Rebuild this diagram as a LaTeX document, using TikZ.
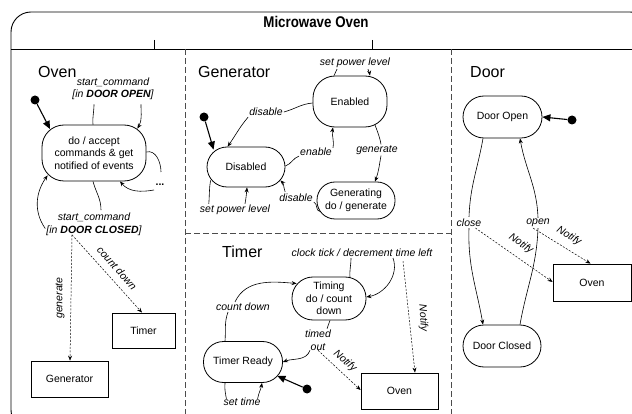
\documentclass[tikz,border=0pt]{standalone}
\usepackage{graphicx}
\usepackage{fontspec}
\setmainfont{Liberation Sans}
\usetikzlibrary{arrows.meta}
\newcommand\mwState{\fontsize{10.5}{12.5}\selectfont}
\newcommand\mwLabel{\fontsize{10.5}{12.5}\selectfont\itshape}
\newcommand\mwTitle{\fontsize{16}{18}\selectfont}
\begin{document}
\begin{tikzpicture}[x=1pt,y=1pt,
  state/.style={draw, line width=0.8pt, rounded corners=#1, align=center, inner sep=0pt, font=\mwState},
  state/.default=20pt,
  box/.style={draw, line width=0.8pt, inner sep=0pt, font=\mwState},
  lbl/.style={inner sep=1pt, font=\mwLabel, align=center},
  trans/.style={line width=0.6pt, -{Stealth[length=5pt,width=4pt]}},
  plain/.style={line width=0.6pt},
  note/.style={line width=0.5pt, dash pattern=on 2pt off 1.5pt, -{Stealth[length=5pt,width=4pt]}},
  initdot/.style={circle, fill, inner sep=0pt, minimum size=9pt},
  initarrow/.style={line width=1.1pt, -{Triangle[length=8pt,width=7pt]}},
  region/.style={line width=0.7pt, gray!60!black, dash pattern=on 6pt off 3pt},
  title/.style={anchor=west, inner sep=0pt, font=\mwTitle},
]
\useasboundingbox (0,0) rectangle (632,-414);

% outer composite state
\draw[line width=0.9pt, rounded corners=20pt] (11,-12) rectangle (650,-430);
\draw[line width=0.9pt] (11,-49) -- (645,-49);
\draw[line width=0.8pt] (154,-40) -- (154,-49);
\draw[line width=0.8pt] (372,-40) -- (372,-49);
\node[inner sep=0pt] (head) at (316,-22) {\scalebox{0.86}[1]{\fontsize{15.5}{17}\selectfont\bfseries Microwave Oven}};

% concurrent regions
\draw[region] (185,-49) -- (185,-420);
\draw[region] (451,-49) -- (451,-420);
\draw[region] (185,-233) -- (451,-233);

% ---------------- Oven region ----------------
\node[title] (tOven) at (38,-72) {Oven};
\node[state=22pt, minimum width=104pt, minimum height=56pt] (os) at (94,-153) {do / accept\\commands \& get\\notified of events};
\node[box, minimum width=77pt, minimum height=36pt] (gb) at (69.5,-379) {Generator};
\node[box, minimum width=63pt, minimum height=35pt] (tb) at (143.5,-330.5) {Timer};
\node[initdot] (oi) at (35,-100) {};
\node[lbl] (l1) at (113,-89) {start\_command\\{}[in \textbf{DOOR OPEN}]};
\node[lbl] (l2) at (94,-224.5) {start\_command\\{}[in \textbf{DOOR CLOSED}]};
\node[lbl, font=\mwState\bfseries] (l3) at (160,-185) {...};

\draw[initarrow] (oi) -- ([xshift=-44pt,yshift=24pt]os.center);
\draw[plain] ([xshift=-1pt]os.north) to[out=95,in=-90] ([xshift=-19pt,yshift=-3pt]l1.south);
\draw[trans] ([xshift=28pt,yshift=-3pt]l1.south) to[out=-90,in=60] ([xshift=-9pt,yshift=-4pt]os.north east);
\draw[plain] ([yshift=1pt]os.east) to[out=15,in=90] ([xshift=1pt,yshift=13pt]l3.center);
\draw[trans] ([xshift=-6pt,yshift=-5pt]l3.center) to[out=190,in=-50] ([xshift=26pt]os.south);
\draw[plain] ([xshift=-1pt]os.south) to[out=-75,in=90] ([xshift=7pt,yshift=2pt]l2.north);
\draw[trans] ([yshift=-4pt]l2.west) to[out=125,in=-125] ([xshift=6pt,yshift=6pt]os.south west);
\draw[note] ([xshift=-22pt,yshift=2pt]l2.south) -- ([xshift=0.5pt]gb.north);
\draw[note] ([xshift=-22pt,yshift=2pt]l2.south) -- ([xshift=-1.5pt]tb.north);
\node[lbl, rotate=90] (lgen) at (60,-298) {generate};
\node[lbl, rotate=-48.5] (lcd) at (117,-268) {count down};

% ---------------- Generator region ----------------
\node[title] (tGen) at (198,-72) {Generator};
\node[state=22pt, minimum width=74pt, minimum height=51pt] (en) at (350,-101.5) {Enabled};
\node[state=20pt, minimum width=78pt, minimum height=40pt] (di) at (246,-167) {Disabled};
\node[state=18pt, minimum width=78pt, minimum height=37pt] (ge) at (356,-200.5) {Generating\\do / generate};
\node[initdot] (gi) at (204,-117) {};
\node[lbl] (spl1) at (355,-63) {set power level};
\node[lbl] (dis1) at (266,-112) {disable};
\node[lbl] (ena) at (316,-152) {enable};
\node[lbl] (gen) at (377,-150) {generate};
\node[lbl] (dis2) at (296,-198) {disable};
\node[lbl] (spl2) at (235,-210) {set power level};

\draw[initarrow] (gi) -- ([xshift=7pt,yshift=-3pt]di.north west);
\draw[plain] ([xshift=-16pt]en.north) to[out=80,in=-100] ([xshift=-18pt]spl1.south);
\draw[trans] ([xshift=13pt]spl1.south) to[out=-80,in=100] ([xshift=20pt]en.north);
\draw[plain] ([yshift=-1.5pt]en.west) to[out=185,in=15] (dis1.east);
\draw[trans] (dis1.south west) to[out=-130,in=55] ([xshift=21pt]di.north west);
\draw[plain] ([yshift=1pt]di.east) to[out=20,in=-160] ([yshift=1pt]ena.south west);
\draw[trans] ([yshift=-1pt]ena.north east) to[out=80,in=-100] ([xshift=-17pt]en.south);
\draw[plain] ([xshift=25pt,yshift=2.5pt]en.south) to[out=-70,in=100] ([xshift=4pt]gen.north);
\draw[trans] ([xshift=4pt]gen.south) to[out=-100,in=70] ([xshift=19pt]ge.north);
\draw[plain] ([xshift=3pt,yshift=8pt]ge.south west) to[out=170,in=-20] ([yshift=1pt]dis2.south east);
\draw[trans] ([xshift=7pt,yshift=1pt]dis2.north west) to[out=110,in=-45] ([xshift=-5pt,yshift=7pt]di.south east);
\draw[plain] ([xshift=4pt,yshift=7pt]di.south west) to[out=-100,in=85] ([xshift=10pt]spl2.north west);
\draw[trans] ([xshift=10pt]spl2.north) to[out=80,in=-95] ([xshift=1pt]di.south);

% ---------------- Timer region ----------------
\node[title] (tTimer) at (222,-252) {Timer};
\node[state=21pt, minimum width=74pt, minimum height=43pt] (ti) at (329,-298.5) {Timing\\do / count\\down};
\node[state=20pt, minimum width=79pt, minimum height=41pt] (tr) at (243,-362) {Timer Ready};
\node[box, minimum width=77pt, minimum height=36pt] (ot) at (399.5,-391) {Oven};
\node[initdot] (tri) at (307,-389) {};
\node[lbl] (ck) at (362,-253) {clock tick / decrement time left};
\node[lbl] (cd) at (243,-307) {count down};
\node[lbl] (tout) at (318,-340) {timed\\out};
\node[lbl] (st) at (242,-402) {set time};
\node[lbl, rotate=-41] (nt1) at (345,-361) {Notify};
\node[lbl, rotate=-86] (nt2) at (423,-318) {Notify};

\draw[plain] ([xshift=21pt,yshift=-1pt]ti.north) to[out=95,in=-90] ([xshift=-11pt]ck.south);
\draw[trans] ([xshift=31pt]ck.south) to[out=-70,in=10] ([yshift=1.5pt]ti.east);
\draw[note] ([xshift=41pt,yshift=-3pt]ck.south) -- ([xshift=15.5pt]ot.north);
\draw[plain] ([xshift=-18pt]tr.north) to[out=85,in=-110] ([xshift=-15pt]cd.south);
\draw[trans] ([xshift=-8pt]cd.north) to[out=65,in=175] ([xshift=5pt,yshift=15pt]ti.west);
\draw[plain] ([xshift=1pt]ti.south) -- ([xshift=9pt]tout.north);
\draw[trans] ([xshift=-8pt,yshift=1pt]tout.south) to[out=-110,in=20] (tr.east);
\draw[note] ([yshift=1pt]tout.south) -- ([yshift=1pt]ot.west);
\draw[initarrow] (tri) -- ([xshift=-5.5pt,yshift=-14pt]tr.east);
\draw[plain] ([xshift=-18pt]tr.south) to[out=-95,in=100] ([xshift=4pt,yshift=-2pt]st.north west);
\draw[trans] ([xshift=-4pt,yshift=-2pt]st.north east) to[out=80,in=-100] ([xshift=19pt]tr.south);

% ---------------- Door region ----------------
\node[title] (tDoor) at (470,-72) {Door};
\node[state=21pt, minimum width=79pt, minimum height=42pt] (do) at (502.5,-117) {Door Open};
\node[state=21pt, minimum width=78pt, minimum height=42pt] (dc) at (502,-346) {Door Closed};
\node[box, minimum width=78pt, minimum height=37pt] (od) at (592,-282.5) {Oven};
\node[initdot] (doi) at (572,-120) {};
\node[lbl] (cl) at (469,-223) {close};
\node[lbl] (op) at (538,-223) {open};
\node[lbl, rotate=-35] (nd1) at (521,-244) {Notify};
\node[lbl, rotate=-32] (nd2) at (569,-236) {Notify};

\draw[initarrow] (doi) -- (do.east);
\draw[plain] ([xshift=-19.5pt]do.south) to[out=-100,in=88] ([yshift=1pt]cl.north);
\draw[trans] (cl.south) to[out=-92,in=100] ([xshift=-19pt]dc.north);
\draw[plain] ([xshift=18pt]dc.north) to[out=80,in=-92] (op.south);
\draw[trans] (op.north) to[out=92,in=-80] ([xshift=17.5pt]do.south);
\draw[note] ([xshift=-7pt]cl.south east) -- ([yshift=0.5pt]od.west);
\draw[note] ([xshift=8pt]op.south west) -- ([xshift=-1.5pt]od.north);
\end{tikzpicture}
\end{document}
